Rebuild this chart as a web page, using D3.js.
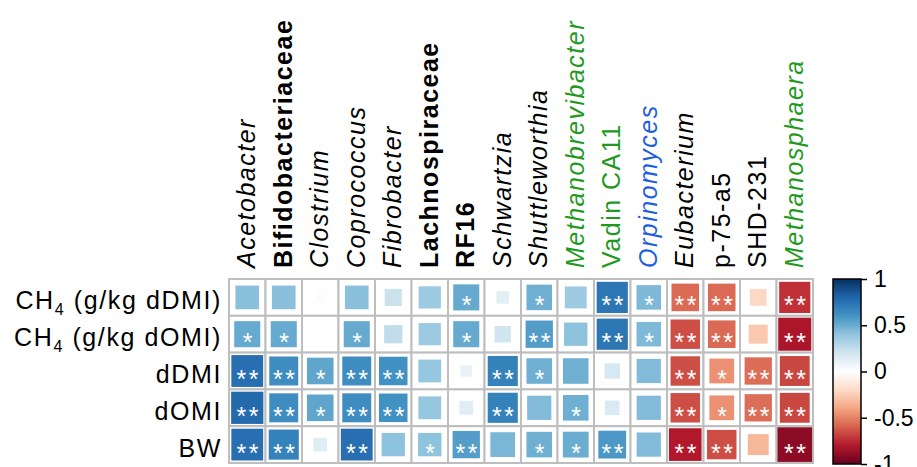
<!DOCTYPE html>
<html>
<head>
<meta charset="utf-8">
<script src="https://cdn.jsdelivr.net/npm/d3@7"></script>
<style>
  html, body { margin: 0; padding: 0; background: #fff; }
  svg text { font-family: "Liberation Sans", Arial, Helvetica, sans-serif; }
</style>
</head>
<body>
<svg id="chart" width="917" height="467"></svg>
<script>
// Taxa (columns) and their label styles
const taxa = ["Acetobacter", "Bifidobacteriaceae", "Clostrium", "Coprococcus", "Fibrobacter",
  "Lachnospiraceae", "RF16", "Schwartzia", "Shuttleworthia", "Methanobrevibacter",
  "Vadin CA11", "Orpinomyces", "Eubacterium", "p-75-a5", "SHD-231", "Methanosphaera"];
const taxaStyle = ["italic", "bold", "italic", "italic", "italic",
  "bold", "bold", "italic", "italic", "italic",
  "normal", "italic", "italic", "normal", "normal", "italic"];
const taxaColor = ["#000", "#000", "#000", "#000", "#000",
  "#000", "#000", "#000", "#000", "#1f9a1f",
  "#1f9a1f", "#1d5fe0", "#000", "#000", "#000", "#1f9a1f"];

// Traits (rows)
const traits = ["CH4_dDMI", "CH4_dOMI", "dDMI", "dOMI", "BW"];

// Correlation coefficients, one array per trait
const rCH4dDMI = [0.42, 0.42, -0.03, 0.42, 0.22, 0.37, 0.51, 0.12, 0.49, 0.36, 0.73, 0.45, -0.57, -0.57, -0.21, -0.73];
const rCH4dOMI = [0.51, 0.51, 0.01, 0.51, 0.25, 0.37, 0.51, 0.20, 0.56, 0.41, 0.73, 0.45, -0.65, -0.57, -0.27, -0.82];
const rDDMI    = [0.76, 0.63, 0.53, 0.63, 0.61, 0.39, 0.10, 0.68, 0.49, 0.49, 0.18, 0.44, -0.65, -0.46, -0.56, -0.67];
const rDOMI    = [0.78, 0.63, 0.53, 0.63, 0.61, 0.39, 0.14, 0.68, 0.44, 0.49, 0.16, 0.44, -0.65, -0.46, -0.56, -0.67];
const rBW      = [0.76, 0.68, 0.14, 0.76, 0.41, 0.41, 0.56, 0.46, 0.49, 0.50, 0.58, 0.44, -0.80, -0.65, -0.33, -0.90];

// Significance marks (* P < 0.05, ** P < 0.01)
const sCH4dDMI = ["", "", "", "", "", "", "*", "", "*", "", "**", "*", "**", "**", "", "**"];
const sCH4dOMI = ["*", "*", "", "*", "", "", "*", "", "**", "", "**", "*", "**", "**", "", "**"];
const sDDMI    = ["**", "**", "*", "**", "**", "", "", "**", "*", "", "", "", "**", "*", "**", "**"];
const sDOMI    = ["**", "**", "*", "**", "**", "", "", "**", "", "*", "", "", "**", "*", "**", "**"];
const sBW      = ["**", "**", "", "**", "", "*", "**", "", "*", "*", "**", "", "**", "**", "", "**"];

// Colour bar ticks
const legendTicks = [1, 0.5, 0, -0.5, -1];

// Diverging palette (red = negative, blue = positive)
const paletteStops = ["#67001F", "#B2182B", "#D6604D", "#F4A582", "#FDDBC7", "#FFFFFF",
  "#D1E5F0", "#92C5DE", "#4393C3", "#2166AC", "#053061"];

const rValues = [rCH4dDMI, rCH4dOMI, rDDMI, rDOMI, rBW];
const sigMarks = [sCH4dDMI, sCH4dOMI, sDDMI, sDOMI, sBW];

const cells = [];
traits.forEach((t, i) => taxa.forEach((g, j) => {
  cells.push({ trait: t, taxon: g, r: rValues[i][j], sig: sigMarks[i][j] });
}));

const svg = d3.select("#chart");
const gridLeft = 229, gridRight = 813, gridTop = 279, gridBottom = 463;

const x = d3.scaleBand().domain(taxa).range([gridLeft, gridRight]);
const y = d3.scaleBand().domain(traits).range([gridTop, gridBottom]);
const color = d3.scaleLinear()
  .domain(d3.range(paletteStops.length).map(k => -1 + 2 * k / (paletteStops.length - 1)))
  .range(paletteStops)
  .interpolate(d3.interpolateRgb);
const side = Math.min(x.bandwidth(), y.bandwidth());
// square area proportional to |r|
const sizeScale = d3.scaleSqrt().domain([0, 1]).range([0, side]);

// grid
svg.append("g").selectAll("rect")
  .data(cells)
  .join("rect")
  .attr("x", d => x(d.taxon))
  .attr("y", d => y(d.trait))
  .attr("width", x.bandwidth())
  .attr("height", y.bandwidth())
  .attr("fill", "#fff")
  .attr("stroke", "#bebebe")
  .attr("stroke-width", 2);

// squares
svg.append("g").selectAll("rect")
  .data(cells)
  .join("rect")
  .attr("x", d => x(d.taxon) + x.bandwidth() / 2 - sizeScale(Math.abs(d.r)) / 2)
  .attr("y", d => y(d.trait) + y.bandwidth() / 2 - sizeScale(Math.abs(d.r)) / 2)
  .attr("width", d => sizeScale(Math.abs(d.r)))
  .attr("height", d => sizeScale(Math.abs(d.r)))
  .attr("fill", d => color(d.r));

// significance stars
svg.append("g").selectAll("text")
  .data(cells.filter(d => d.sig))
  .join("text")
  .attr("x", d => x(d.taxon) + x.bandwidth() / 2 + 1.5)
  .attr("y", d => y(d.trait) + y.bandwidth() / 2 + 17)
  .attr("text-anchor", "middle")
  .attr("fill", "#fff")
  .style("font-size", "25px")
  .style("letter-spacing", "2.5px")
  .text(d => d.sig);

// column labels
svg.append("g").selectAll("text")
  .data(taxa)
  .join("text")
  .attr("transform", (d) => `translate(${x(d) + x.bandwidth() / 2 + 8},268) rotate(-90)`)
  .attr("text-anchor", "start")
  .style("font-size", "25px")
  .style("letter-spacing", "1.5px")
  .style("font-style", (d, i) => taxaStyle[i] === "italic" ? "italic" : "normal")
  .style("font-weight", (d, i) => taxaStyle[i] === "bold" ? "bold" : "normal")
  .attr("fill", (d, i) => taxaColor[i])
  .text(d => d);

// row labels
const rowLabel = svg.append("g").selectAll("text")
  .data(traits)
  .join("text")
  .attr("x", 222)
  .attr("y", d => y(d) + y.bandwidth() / 2 + 12)
  .attr("text-anchor", "end")
  .style("font-size", "25px")
  .style("letter-spacing", "1.6px")
  .attr("fill", "#000");

rowLabel.each(function (d) {
  const t = d3.select(this);
  if (d.startsWith("CH4")) {
    t.append("tspan").text("CH");
    t.append("tspan").attr("dy", 6).style("font-size", "16px").text("4");
    t.append("tspan").attr("dy", -6).text(d === "CH4_dDMI" ? " (g/kg dDMI)" : " (g/kg dOMI)");
  } else {
    t.text(d);
  }
});

// colour bar
const defs = svg.append("defs");
const grad = defs.append("linearGradient")
  .attr("id", "rbar").attr("x1", 0).attr("y1", 1).attr("x2", 0).attr("y2", 0);
grad.selectAll("stop")
  .data(paletteStops)
  .join("stop")
  .attr("offset", (d, i) => i / (paletteStops.length - 1))
  .attr("stop-color", d => d);

const barX = 833, barW = 28;
const ly = d3.scaleLinear().domain([-1, 1]).range([464, 279]);
svg.append("rect")
  .attr("x", barX).attr("y", ly(1))
  .attr("width", barW).attr("height", ly(-1) - ly(1))
  .attr("fill", "url(#rbar)")
  .attr("stroke", "#000").attr("stroke-width", 1.5);

const legendAxis = d3.axisRight(ly).tickValues(legendTicks).tickSize(6).tickFormat(d3.format("~g"));
const lg = svg.append("g")
  .attr("transform", `translate(${barX + barW},0)`)
  .call(legendAxis);
lg.select(".domain").remove();
lg.selectAll(".tick line").attr("stroke", "#000").attr("stroke-width", 1.5);
lg.selectAll(".tick text")
  .attr("x", 13)
  .style("font-size", "23px")
  .style("font-family", "'Liberation Sans', Arial, sans-serif")
  .attr("fill", "#000")
  .text(d => d === 0 ? "0" : (d < 0 ? "-" + Math.abs(d) : String(d)));
</script>
</body>
</html>
